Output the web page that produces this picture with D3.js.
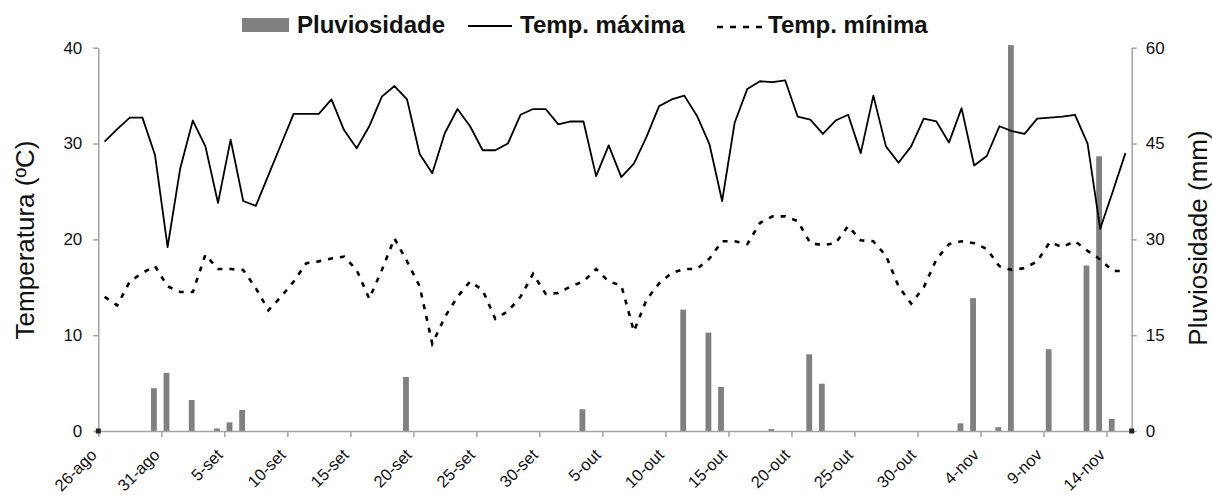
<!DOCTYPE html>
<html>
<head>
<meta charset="utf-8">
<script src="https://cdnjs.cloudflare.com/ajax/libs/d3/7.8.5/d3.min.js"></script>
<style>
	body {
	  margin: 0;
	  background: #fff;
	}
	svg text {
	  font-family: "Liberation Sans", Arial, sans-serif;
	  fill: #111;
	}
</style>
</head>
<body>
<svg width="1212" height="495"></svg>
<script>
	// daily values, 26-ago .. 15-nov (82 days)
	var tempMax = [30.2, 31.5, 32.7, 32.7, 28.8, 19.2, 27.4, 32.4, 29.7, 23.8,
		30.4, 24.0, 23.5, 26.7, 29.9, 33.1, 33.1, 33.1, 34.6, 31.4,
		29.5, 31.8, 34.9, 36.0, 34.6, 28.9, 26.9, 31.1, 33.6, 31.8,
		29.3, 29.3, 30.0, 33.0, 33.6, 33.6, 32.0, 32.3, 32.3, 26.6,
		29.8, 26.5, 27.9, 30.7, 33.9, 34.6, 35.0, 32.9, 29.9, 24.0,
		32.2, 35.7, 36.5, 36.4, 36.6, 32.8, 32.5, 31.0, 32.4, 33.0,
		29.0, 35.0, 29.7, 28.0, 29.7, 32.6, 32.3, 30.1, 33.7, 27.7,
		28.7, 31.8, 31.3, 31.0, 32.6, 32.7, 32.8, 33.0, 30.0, 21.1,
		25.0, 29.0];

	var tempMin = [14.0, 13.1, 15.6, 16.5, 17.2, 15.1, 14.5, 14.5, 18.4, 16.9,
		16.9, 16.8, 14.9, 12.6, 14.0, 15.6, 17.5, 17.7, 18.0, 18.2,
		16.8, 13.8, 16.8, 20.1, 17.7, 15.1, 9.1, 11.9, 14.0, 15.6,
		14.7, 11.7, 12.5, 14.0, 16.4, 14.3, 14.4, 15.1, 15.6, 16.9,
		15.6, 15.2, 10.4, 13.7, 15.4, 16.5, 16.9, 16.9, 18.0, 19.8,
		19.8, 19.5, 21.7, 22.4, 22.4, 21.9, 19.6, 19.4, 19.6, 21.4,
		19.9, 19.8, 18.3, 15.1, 13.3, 15.0, 17.9, 19.5, 19.8, 19.6,
		19.0, 17.2, 16.8, 17.0, 17.7, 19.7, 19.2, 19.8, 18.8, 17.9,
		16.7, 16.7];

	var chuva = [0, 0, 0, 0, 6.7, 9.1, 0, 4.85, 0, 0.4,
		1.35, 3.3, 0, 0, 0, 0, 0, 0, 0, 0,
		0, 0, 0, 0, 8.45, 0, 0, 0, 0, 0,
		0, 0, 0, 0, 0, 0, 0, 0, 3.4, 0,
		0, 0, 0, 0, 0, 0, 19.0, 0, 15.4, 6.9,
		0, 0, 0, 0.3, 0, 0, 12.0, 7.4, 0, 0,
		0, 0, 0, 0, 0, 0, 0, 0, 1.2, 20.8,
		0, 0.6, 60.4, 0, 0, 12.8, 0, 0, 25.9, 43.0,
		1.9, 0];

	var tickLabels = ["26-ago", "31-ago", "5-set", "10-set", "15-set", "20-set",
		"25-set", "30-set", "5-out", "10-out", "15-out", "20-out", "25-out",
		"30-out", "4-nov", "9-nov", "14-nov"];
	var tempTicks = [0, 10, 20, 30, 40];
	var chuvaTicks = [0, 15, 30, 45, 60];

	var svg = d3.select("svg");

	var pLeft = 98.3, pRight = 1131.7, pTop = 47.7, pBottom = 431;
	var axisColor = "#a3a3a3";

	var x = d3.scaleLinear().domain([0, tempMax.length]).range([pLeft, pRight]);
	var yT = d3.scaleLinear().domain([0, 40]).range([pBottom, pTop]);
	var yP = d3.scaleLinear().domain([0, 60]).range([pBottom, pTop]);

	// bars (rain) - zero days just get no height
	svg.append("g").selectAll("rect")
		.data(chuva)
		.enter().append("rect")
		.attr("x", function(d, i){ return x(i + 0.5) - 4; })
		.attr("width", 5.8)
		.attr("y", function(d){ return yP(d); })
		.attr("height", function(d){ return pBottom - yP(d); })
		.style("fill", "#808080");

	// axes
	var styleAxis = function(g){
		g.select(".domain").attr("stroke", axisColor).attr("stroke-width", 1.5);
		g.selectAll(".tick line").attr("stroke", axisColor).attr("stroke-width", 1.5);
		g.selectAll(".tick text").style("font-size", "17px").attr("fill", "#111");
	};

	svg.append("g")
		.attr("transform", "translate(" + pLeft + ",0)")
		.call(d3.axisLeft(yT).tickValues(tempTicks).tickSize(5).tickSizeOuter(0).tickPadding(11))
		.call(styleAxis);

	svg.append("g")
		.attr("transform", "translate(" + pRight + ",0)")
		.call(d3.axisRight(yP).tickValues(chuvaTicks).tickSize(5).tickSizeOuter(0).tickPadding(9))
		.call(styleAxis);

	var xTicks = tickLabels.map(function(d, i){ return i * 5; });
	var gx = svg.append("g")
		.attr("transform", "translate(0," + pBottom + ")")
		.call(d3.axisBottom(x).tickValues(xTicks).tickSize(6).tickSizeOuter(0)
			.tickFormat(function(d, i){ return tickLabels[i]; }))
		.call(styleAxis);
	gx.selectAll(".tick text")
		.style("font-size", "16.5px")
		.attr("text-anchor", "end")
		.attr("dy", null)
		.attr("y", 0)
		.attr("transform", "translate(-1,25) rotate(-45)");

	// small markers at both ends of the base line
	svg.append("g").selectAll("rect")
		.data([pLeft, pRight])
		.enter().append("rect")
		.attr("x", function(d){ return d - 2.5; })
		.attr("y", pBottom - 2.5)
		.attr("width", 5)
		.attr("height", 5)
		.style("fill", "#222");

	// lines
	var lineT = d3.line()
		.x(function(d, i){ return x(i + 0.5); })
		.y(function(d){ return yT(d); });

	svg.append("path")
		.datum(tempMin)
		.attr("d", lineT)
		.attr("fill", "none")
		.attr("stroke", "#000")
		.attr("stroke-width", 2.6)
		.attr("stroke-dasharray", "5,7");

	svg.append("path")
		.datum(tempMax)
		.attr("d", lineT)
		.attr("fill", "none")
		.attr("stroke", "#000")
		.attr("stroke-width", 1.8)
		.attr("stroke-linejoin", "round");

	// axis titles
	svg.append("text")
		.attr("transform", "translate(34,240) rotate(-90)")
		.attr("text-anchor", "middle")
		.style("font-size", "26px")
		.text("Temperatura (ºC)");

	svg.append("text")
		.attr("transform", "translate(1207,238) rotate(-90)")
		.attr("text-anchor", "middle")
		.style("font-size", "26px")
		.text("Pluviosidade (mm)");

	// legend
	var legend = svg.append("g").style("font-size", "24px").style("font-weight", "bold");
	legend.append("rect").attr("x", 242).attr("y", 18).attr("width", 47).attr("height", 14).style("fill", "#808080");
	legend.append("text").attr("x", 297).attr("y", 33).text("Pluviosidade");
	legend.append("line").attr("x1", 468).attr("x2", 512).attr("y1", 26).attr("y2", 26)
		.attr("stroke", "#000").attr("stroke-width", 2);
	legend.append("text").attr("x", 520).attr("y", 33).text("Temp. máxima");
	legend.append("line").attr("x1", 717).attr("x2", 765).attr("y1", 27).attr("y2", 27)
		.attr("stroke", "#000").attr("stroke-width", 2.6).attr("stroke-dasharray", "6,7");
	legend.append("text").attr("x", 768).attr("y", 33).text("Temp. mínima");
</script>
</body>
</html>
